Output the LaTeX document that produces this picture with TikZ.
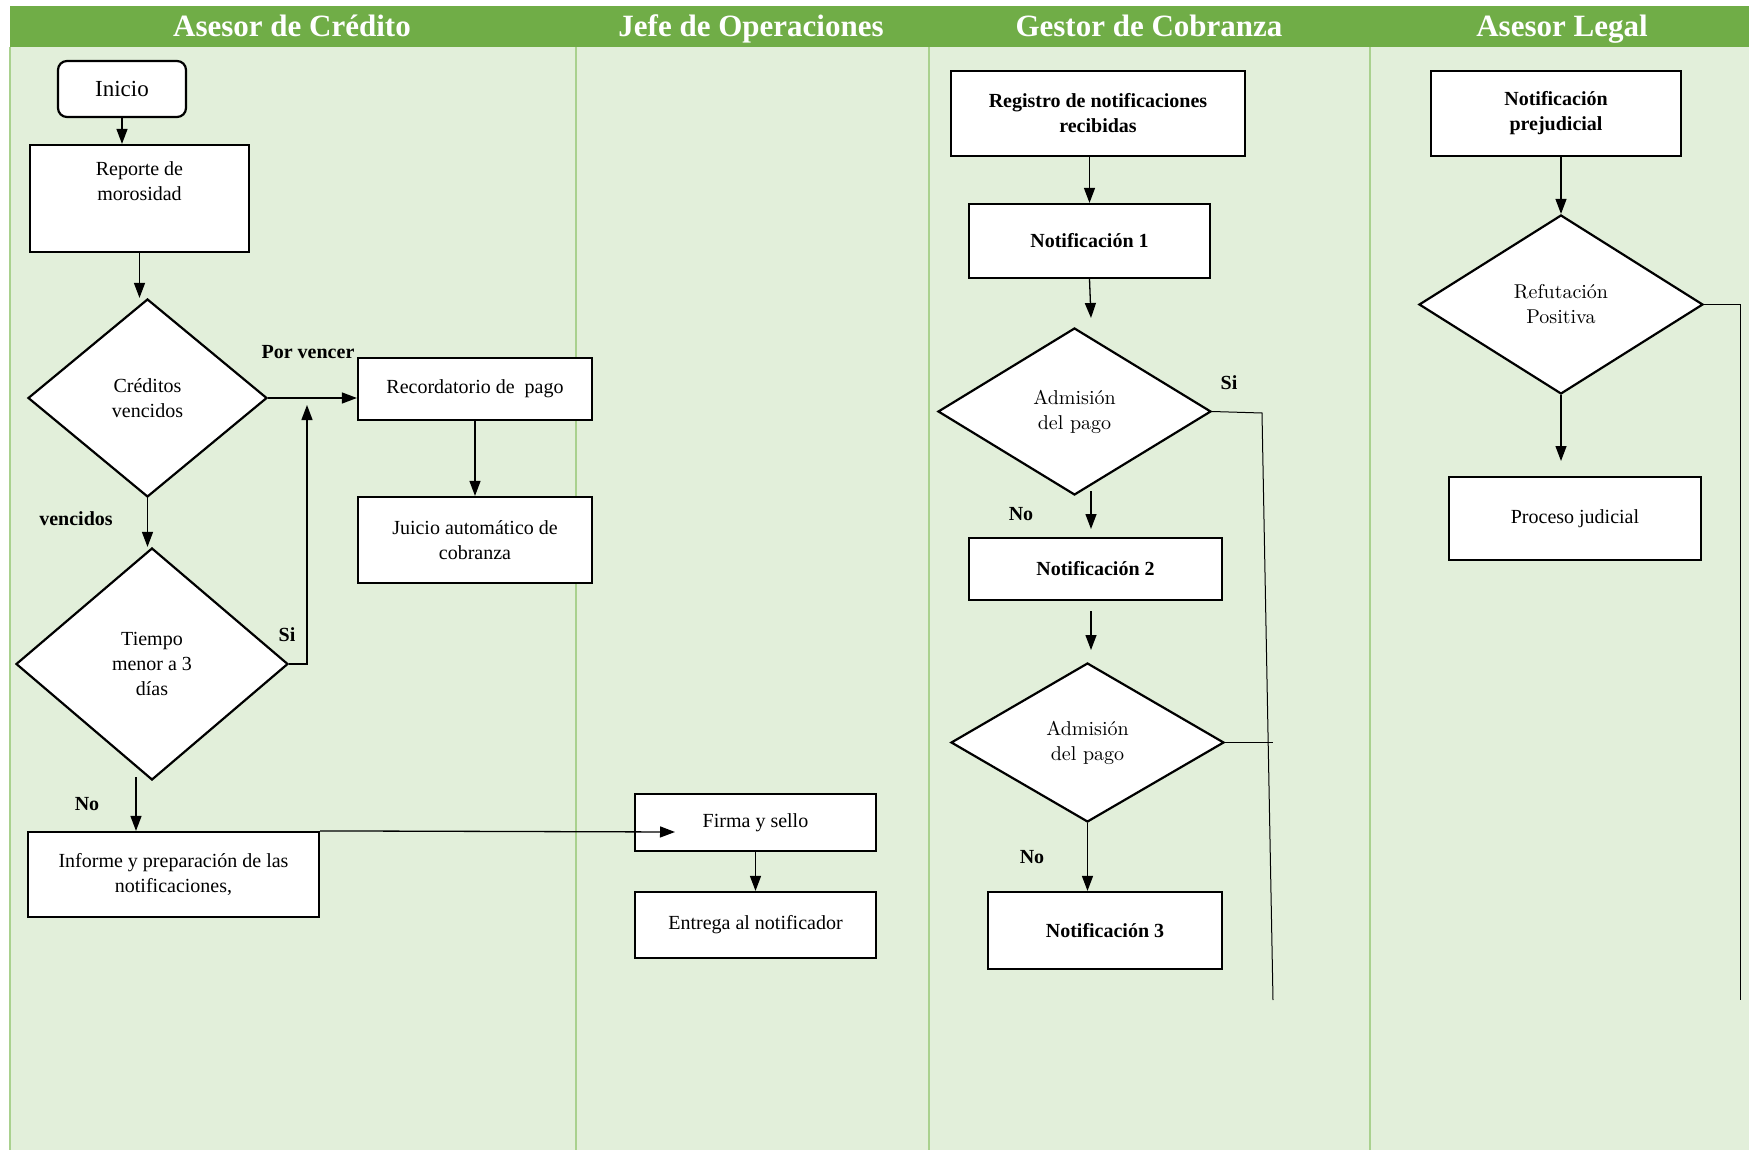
\documentclass[tikz,border=0pt]{standalone}
\usepackage{fontspec}
\setmainfont{Liberation Serif}
\newfontfamily\lmfont{lmroman10-regular.otf}
\usetikzlibrary{shapes.geometric,arrows.meta}
\definecolor{lanefill}{HTML}{E2EFDA}
\definecolor{headfill}{HTML}{70AD47}
\definecolor{laneline}{HTML}{A9D18E}

\begin{document}
\begin{tikzpicture}[x=1pt,y=-1pt,
  txt/.style={font=\fontsize{20}{25}\selectfont, align=center},
  box/.style={draw=black, line width=2.2pt, fill=white, rectangle, inner sep=0pt, txt},
  dec/.style={draw=black, line width=2.2pt, fill=white, diamond, inner sep=0pt, txt},
  lbl/.style={font=\bfseries\fontsize{20}{25}\selectfont},
  head/.style={text=white, font=\bfseries\fontsize{31}{36}\selectfont, anchor=base},
  conn/.style={line width=1.3pt, draw=black},
  thinconn/.style={line width=1pt, draw=black},
  arr/.style={conn, -{Triangle[length=15pt,width=11pt]}},
  lane/.style={draw=laneline, line width=1.6pt},
]
\useasboundingbox (0,0) rectangle (1749,1150);

% swimlanes
\fill[lanefill] (10,47) rectangle (1749,1150);
\fill[headfill] (10,6) rectangle (1749,47);
\draw[lane] (10,47) -- (10,1150);
\draw[lane] (576,47) -- (576,1150);
\draw[lane] (929,47) -- (929,1150);
\draw[lane] (1370,47) -- (1370,1150);

\node[head] (h1) at (292,37) {Asesor de Crédito};
\node[head] (h2) at (751,37) {Jefe de Operaciones};
\node[head] (h3) at (1149,37) {Gestor de Cobranza};
\node[head] (h4) at (1562,37) {Asesor Legal};

% Asesor de Credito
\node[box, rounded corners=9pt, minimum width=128pt, minimum height=56pt,
      font=\fontsize{23}{27}\selectfont] (ini) at (122,89) {Inicio};
\node[box, minimum width=219pt, minimum height=107pt] (rep) at (139.5,198.5) {};
\node[txt] (reptxt) at (139.5,181) {Reporte de\\morosidad};
\node[dec, minimum width=239pt, minimum height=198pt] (cv) at (147.5,398) {Créditos\\vencidos};
\node[box, minimum width=234pt, minimum height=62pt] (rec) at (475,389) {Recordatorio de\ \ pago};
\node[box, minimum width=234pt, minimum height=86pt] (jui) at (475,540) {Juicio automático de\\cobranza};
\node[dec, minimum width=272pt, minimum height=232pt] (tie) at (152,664) {Tiempo\\menor a 3\\días};
\node[box, minimum width=291pt, minimum height=85pt] (inf) at (173.5,874.5) {Informe y preparación de las\\notificaciones,};

% Jefe de Operaciones
\node[box, minimum width=241pt, minimum height=57pt] (fir) at (755.5,822.5) {Firma y sello};
\node[box, minimum width=241pt, minimum height=66pt] (ent) at (755.5,925) {Entrega al notificador};

% Gestor de Cobranza
\node[box, minimum width=294pt, minimum height=85pt, font=\bfseries\fontsize{20}{25}\selectfont] (reg) at (1098,113.5) {Registro de notificaciones\\recibidas};
\node[box, minimum width=241pt, minimum height=74pt, font=\bfseries\fontsize{20}{25}\selectfont] (n1) at (1089.5,241) {Notificación 1};
\node[dec, minimum width=273pt, minimum height=167pt, font=\lmfont\fontsize{20}{25}\selectfont] (ad1) at (1074.5,411.5) {Admisión\\del pago};
\node[box, minimum width=253pt, minimum height=62pt, font=\bfseries\fontsize{20}{25}\selectfont] (n2) at (1095.5,569) {Notificación 2};
\node[dec, minimum width=273pt, minimum height=159pt, font=\lmfont\fontsize{20}{25}\selectfont] (ad2) at (1087.5,742.5) {Admisión\\del pago};
\node[box, minimum width=234pt, minimum height=77pt, font=\bfseries\fontsize{20}{25}\selectfont] (n3) at (1105,930.5) {Notificación 3};

% Asesor Legal
\node[box, minimum width=250pt, minimum height=85pt, font=\bfseries\fontsize{20}{25}\selectfont] (npj) at (1556,113.5) {Notificación\\prejudicial};
\node[dec, minimum width=284pt, minimum height=179pt, font=\lmfont\fontsize{20}{25}\selectfont] (ref) at (1561,304.5) {Refutación\\Positiva};
\node[box, minimum width=252pt, minimum height=83pt] (pj) at (1575,518.5) {Proceso judicial};

% free ends of connectors
\coordinate (siup) at (307,405);
\coordinate (noleft) at (136,777);
\coordinate (firin) at (675,832);
\coordinate (n1end) at (1091,318);
\coordinate (ad1beg) at (1091,491);
\coordinate (ad1end) at (1091,529);
\coordinate (n2beg) at (1091,611);
\coordinate (n2end) at (1091,650);
\coordinate (sitop) at (1262,413);
\coordinate (sibot) at (1273,1000);
\coordinate (reftop) at (1740,304.5);
\coordinate (refbot) at (1740,1000);
\coordinate (refend) at (1561,461);

% connectors
\draw[arr] (ini.south) -- (ini.south |- rep.north);
\draw[arr] (rep.south) -- (rep.south |- cv.north);
\draw[arr] (cv.east) -- (cv.east -| rec.west);
\draw[arr] (rec.south) -- (jui.north);
\draw[arr] (cv.south) -- (cv.south |- tie.north);
\draw[arr] (tie.east) -- (tie.east -| siup) -- (siup);
\draw[arr] (noleft) -- (noleft |- inf.north);
\draw[arr] (inf.north east) -- (firin);
\draw[arr] (fir.south) -- (ent.north);

\draw[arr] (n1.north |- reg.south) -- (n1.north);
\draw[arr] (n1.south) -- (n1end);
\draw[arr] (ad1beg) -- (ad1end);
\draw[arr] (n2beg) -- (n2end);
\draw[arr] (ad2.south) -- (ad2.south |- n3.north);
\draw[thinconn] (ad1.east) -- (sitop) -- (sibot);
\draw[thinconn] (ad2.east) -- (ad2.east -| sibot);

\draw[arr] (ref.north |- npj.south) -- (ref.north);
\draw[arr] (ref.south) -- (refend);
\draw[thinconn] (ref.east) -- (reftop) -- (refbot);

% branch labels
\node[lbl] (lporv) at (308,352) {Por vencer};
\node[lbl] (lvenc) at (76,519) {vencidos};
\node[lbl] (lsi1) at (287,635) {Si};
\node[lbl] (lno1) at (87,804) {No};
\node[lbl] (lsi2) at (1229,383) {Si};
\node[lbl] (lno2) at (1021,514) {No};
\node[lbl] (lno3) at (1032,857) {No};
\end{tikzpicture}
\end{document}
